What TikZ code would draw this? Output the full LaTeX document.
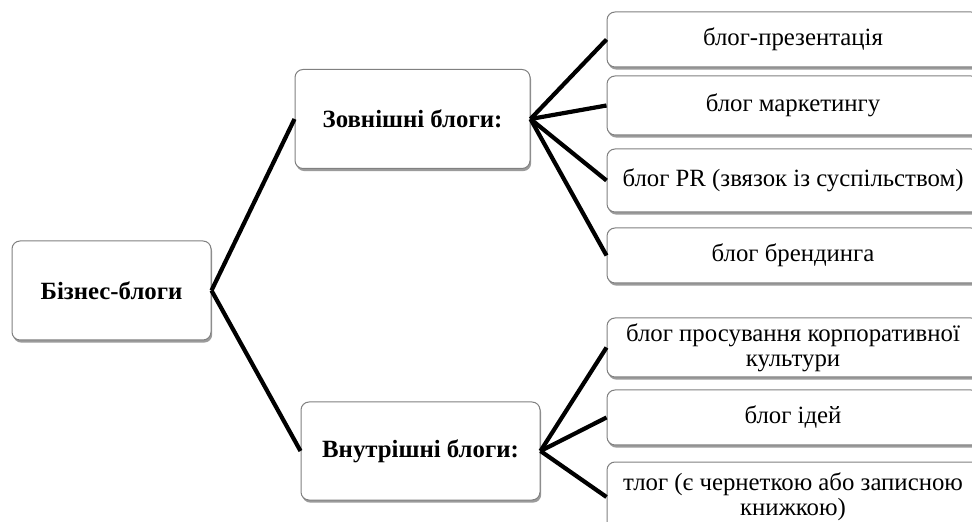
\documentclass[tikz,border=0pt]{standalone}
\usepackage{fontspec}
\setmainfont{Liberation Serif}
\usepackage{tikz}
\usetikzlibrary{positioning,shadows}

\begin{document}
\begin{tikzpicture}[x=0.5pt,y=-0.5pt,
	box/.style={draw=black!50,line width=0.5pt,rounded corners=4pt,fill=white,
		drop shadow={shadow xshift=0.6pt,shadow yshift=-1.3pt,fill=black!60,opacity=0.65},
		align=center,font=\fontsize{12.4}{12.6}\selectfont,inner sep=2pt},
	head/.style={box,font=\fontsize{12.4}{12.6}\selectfont\bfseries},
	leaf/.style={box,minimum width=186pt},
	link/.style={line width=2.1pt,black},
	]
	\useasboundingbox (0,0) rectangle (972,522);
	%levels
	\node[head,minimum width=99.5pt,minimum height=49.5pt] (root) at (111.5,290.5) {Бізнес-блоги};
	\node[head,minimum width=117.5pt,minimum height=49.5pt] (ext) at (412.5,119) {Зовнішні блоги:};
	\node[head,minimum width=119.5pt,minimum height=49pt] (int) at (420.5,451) {Внутрішні блоги:};
	%external leaves
	\node[leaf,minimum height=27.5pt] (pres) at (793,39.5) {блог-презентація};
	\node[leaf,minimum height=29.5pt] (mark) at (793,105.5) {блог маркетингу};
	\node[leaf,minimum height=31.5pt] (pr) at (793,180.5) {блог PR (звязок із суспільством)};
	\node[leaf,minimum height=27.5pt] (brand) at (793,255.5) {блог брендинга};
	%internal leaves
	\node[leaf,minimum height=29.5pt] (corp) at (793,347.5) {блог просування корпоративної\\культури};
	\node[leaf,minimum height=27.5pt] (idea) at (793,417.5) {блог ідей};
	\node[leaf,minimum height=35pt] (tlog) at (793,497) {тлог (є чернеткою або записною\\книжкою)};
	%connectors
	\draw[link] (root.east) -- (ext.west);
	\draw[link] (root.east) -- (int.west);
	\foreach \n in {pres,mark,pr,brand}
		\draw[link] (ext.east) -- (\n.west);
	\foreach \n in {corp,idea,tlog}
		\draw[link] (int.east) -- (\n.west);
\end{tikzpicture}
\end{document}
